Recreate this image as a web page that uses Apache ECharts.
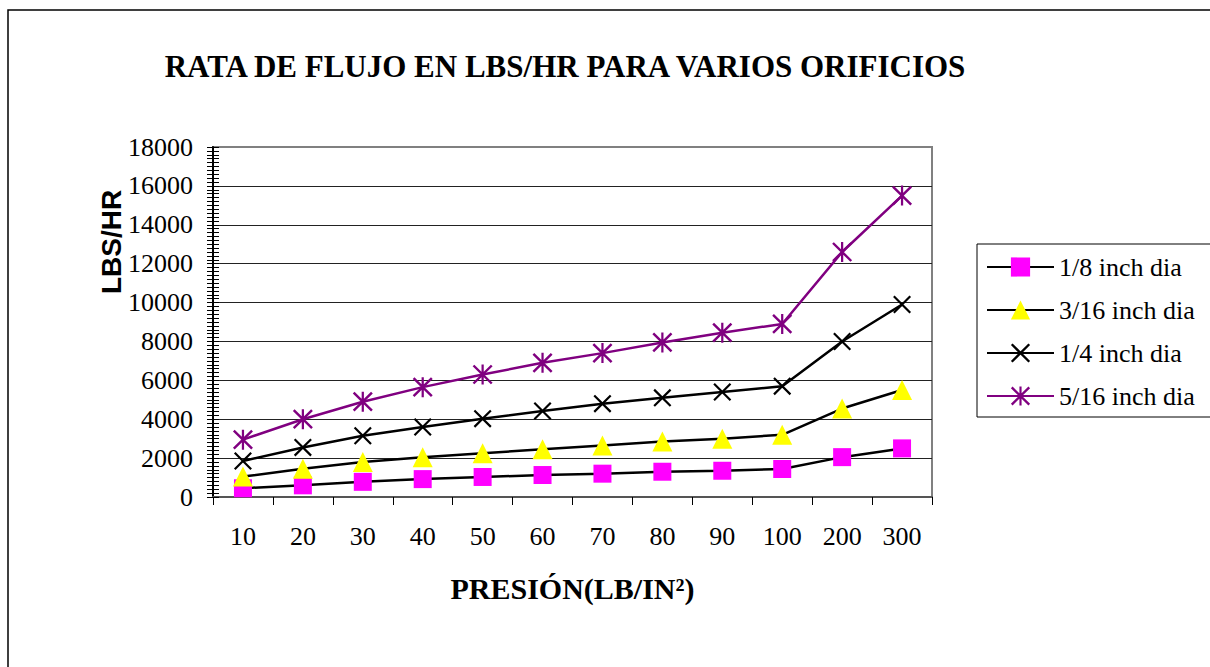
<!DOCTYPE html>
<html>
<head>
<meta charset="utf-8">
<title>Rata de flujo en lbs/hr</title>
<script src="https://cdn.jsdelivr.net/npm/echarts@6/dist/echarts.min.js"></script>
<style>
  html, body { margin: 0; padding: 0; background: #fff; }
  #chart { width: 1210px; height: 667px; }
</style>
</head>
<body>
<div id="chart"></div>
<script>
// Pressure categories (lb/in²) along the x axis
const pressures = ['10', '20', '30', '40', '50', '60', '70', '80', '90', '100', '200', '300'];

// Flow rate in lbs/hr for each orifice diameter
const dia1_8  = [450, 600, 780, 920, 1030, 1130, 1200, 1300, 1350, 1440, 2050, 2500];
const dia3_16 = [1050, 1450, 1800, 2050, 2250, 2450, 2650, 2850, 3000, 3200, 4550, 5500];
const dia1_4  = [1850, 2550, 3150, 3600, 4030, 4420, 4800, 5100, 5400, 5700, 8000, 9900];
const dia5_16 = [2950, 4000, 4900, 5650, 6300, 6900, 7400, 7950, 8450, 8900, 12600, 15500];

const seriesNames = ['1/8 inch dia', '3/16 inch dia', '1/4 inch dia', '5/16 inch dia'];

// Marker shapes: an "X" made of two diagonal bars, and an asterisk (X plus a vertical bar)
const barA = 'M0.15 1.85 L18.15 19.85 L19.85 18.15 L1.85 0.15 Z';
const barB = 'M18.15 0.15 L0.15 18.15 L1.85 19.85 L19.85 1.85 Z';
const barV = 'M8.9 0 L8.9 20 L11.1 20 L11.1 0 Z';
const crossSymbol = 'path://' + barA + ' ' + barB;
const starSymbol = 'path://' + barA + ' ' + barB + ' ' + barV;

const serif = "'Liberation Serif', 'Times New Roman', serif";
const sans = "'Liberation Sans', Arial, sans-serif";

const chart = echarts.init(document.getElementById('chart'), null, { renderer: 'svg' });

function lineSeries(name, data, symbol, size, markColor, lineColor) {
  return {
    name: name,
    type: 'line',
    data: data,
    xAxisIndex: 0,
    yAxisIndex: 0,
    symbol: symbol,
    symbolSize: size,
    showAllSymbol: true,
    lineStyle: { color: lineColor, width: 2.5 },
    itemStyle: { color: markColor, borderWidth: 0 },
    emphasis: { disabled: true }
  };
}

const gridColors = ['#222', '#222', '#222', '#222', '#222', '#222', '#222', '#222', '#222', '#808080'];

chart.setOption({
  animation: false,
  backgroundColor: '#fff',
  grid: {
    left: 213, top: 147, right: 278, bottom: 170,
    show: true, borderColor: '#808080', borderWidth: 2, backgroundColor: 'transparent'
  },
  legend: {
    orient: 'vertical',
    left: 977, top: 244,
    itemWidth: 67, itemHeight: 24, itemGap: 17,
    padding: [10, 30, 8, 9],
    borderColor: '#000', borderWidth: 1, backgroundColor: '#fff',
    textStyle: { fontFamily: serif, fontSize: 26, color: '#000', lineHeight: 26 },
    data: seriesNames
  },
  xAxis: {
    type: 'category',
    data: pressures,
    boundaryGap: true,
    axisLine: { lineStyle: { color: '#555', width: 2 } },
    axisTick: { show: true, length: 8, lineStyle: { color: '#000', width: 1 } },
    axisLabel: { fontFamily: serif, fontSize: 26, color: '#000', margin: 26 },
    splitLine: { show: false },
    name: 'PRESIÓN(LB/IN²)',
    nameLocation: 'middle',
    nameGap: 76,
    nameTextStyle: { fontFamily: serif, fontSize: 30, fontWeight: 'bold', color: '#000' }
  },
  yAxis: [
    {
      type: 'value', position: 'left',
      min: 0, max: 18000, interval: 2000,
      axisLine: { show: true, lineStyle: { color: '#000', width: 2 } },
      axisTick: { show: true, length: 6, lineStyle: { color: '#000', width: 1 } },
      minorTick: { show: true, splitNumber: 10, length: 6, lineStyle: { color: '#000', width: 1 } },
      axisLabel: {
        fontFamily: serif, fontSize: 26, color: '#000', margin: 20,
        formatter: function (v) { return String(v); }
      },
      splitLine: { show: true, lineStyle: { color: gridColors, width: 1.2 } }
    },
    {
      // inner half of the crossing tick marks
      type: 'value', position: 'left', offset: 0,
      min: 0, max: 18000, interval: 2000,
      axisLine: { show: false },
      axisTick: { show: true, inside: true, length: 6, lineStyle: { color: '#000', width: 1 } },
      minorTick: { show: true, splitNumber: 10, length: 6, lineStyle: { color: '#000', width: 1 } },
      axisLabel: { show: false },
      splitLine: { show: false }
    }
  ],
  series: [
    lineSeries(seriesNames[0], dia1_8, 'rect', 18, '#ff00ff', '#000'),
    lineSeries(seriesNames[1], dia3_16, 'triangle', 20, '#ffff00', '#000'),
    lineSeries(seriesNames[2], dia1_4, crossSymbol, 18, '#000', '#000'),
    lineSeries(seriesNames[3], dia5_16, starSymbol, 20, '#800080', '#800080')
  ],
  graphic: [
    {
      type: 'text',
      x: 565, y: 66,
      style: {
        text: 'RATA DE FLUJO EN LBS/HR PARA VARIOS ORIFICIOS',
        font: 'bold 31px ' + serif,
        fill: '#000', textAlign: 'center', textVerticalAlign: 'middle'
      }
    },
    {
      type: 'text',
      x: 111, y: 242, rotation: Math.PI / 2,
      style: {
        text: 'LBS/HR',
        font: 'bold 28px ' + sans,
        fill: '#000', textAlign: 'center', textVerticalAlign: 'middle'
      }
    },
    {
      type: 'polyline',
      shape: { points: [[8, 667], [8, 10], [1210, 10]] },
      style: { stroke: '#000', lineWidth: 1.5, fill: null }
    }
  ]
});
</script>
</body>
</html>
